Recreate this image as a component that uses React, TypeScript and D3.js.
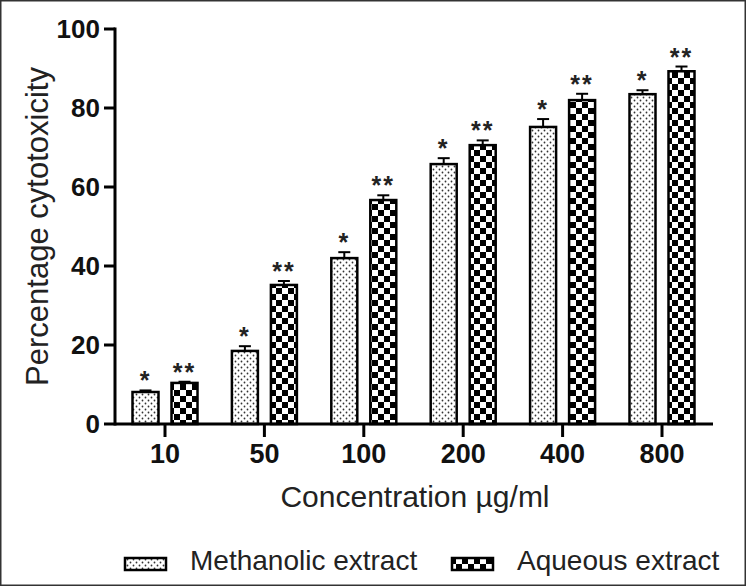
import React from "react";
import * as d3 from "d3";

const concentrations = ["10", "50", "100", "200", "400", "800"];
const methanolic = [8.1, 18.5, 42, 65.8, 75.2, 83.5];
const methanolicErr = [0.4, 1.2, 1.5, 1.5, 2, 1];
const aqueous = [10.4, 35.2, 56.7, 70.6, 82, 89.3];
const aqueousErr = [0.3, 1, 1.2, 1.2, 1.6, 1.2];
const yTicks = [0, 20, 40, 60, 80, 100];
const seriesNames = ["Methanolic extract", "Aqueous extract"];
const marks = ["*", "**"];

const W = 746;
const H = 586;
const margin = { left: 115, top: 29, right: 33, bottom: 162 };
const font = "'Liberation Sans', Arial, sans-serif";

export default function App() {
  const x = d3.scalePoint().domain(concentrations).range([165, 662]);
  const y = d3.scaleLinear().domain([0, 100]).range([H - margin.bottom, margin.top]);
  const barW = 26;
  const offsets = [-32.5, 6.5];
  const series = [
    { vals: methanolic, errs: methanolicErr, fill: "url(#dots)" },
    { vals: aqueous, errs: aqueousErr, fill: "url(#checks)" },
  ];
  const y0 = y(0);

  return (
    <svg
      width={W}
      height={H}
      style={{ position: "absolute", left: 0, top: 0, background: "#fff" }}
      fontFamily={font}
    >
      <defs>
        <pattern id="dots" width="6" height="6" patternUnits="userSpaceOnUse">
          <rect width="6" height="6" fill="#fff" />
          <circle cx="1.5" cy="1.5" r="0.9" fill="#333" />
          <circle cx="4.5" cy="4.5" r="0.9" fill="#333" />
        </pattern>
        <pattern id="checks" width="12" height="12" patternUnits="userSpaceOnUse">
          <rect width="12" height="12" fill="#fff" />
          <rect width="6" height="6" fill="#000" />
          <rect x="6" y="6" width="6" height="6" fill="#000" />
        </pattern>
      </defs>
      <rect x={0.75} y={0.75} width={W - 1.5} height={H - 1.5} fill="none" stroke="#333" strokeWidth={1.5} />

      {/* bars */}
      {concentrations.map((c, i) => (
        <g key={c}>
          {series.map((s, k) => {
            const bx = (x(c) as number) + offsets[k];
            const top = y(s.vals[i]);
            const eTop = y(s.vals[i] + s.errs[i]);
            const cx = bx + barW / 2;
            return (
              <g key={k}>
                <rect
                  x={bx}
                  y={top}
                  width={barW}
                  height={y0 - top}
                  fill={s.fill}
                  stroke="#000"
                  strokeWidth={2.5}
                />
                <line x1={cx} x2={cx} y1={top} y2={eTop} stroke="#000" strokeWidth={2} />
                <line x1={cx - 6} x2={cx + 6} y1={eTop} y2={eTop} stroke="#000" strokeWidth={2} />
                <text
                  x={cx}
                  y={eTop - 1}
                  textAnchor="middle"
                  fontSize={25}
                  fontWeight="bold"
                  fill="#222"
                  letterSpacing={2}
                >
                  {marks[k]}
                </text>
              </g>
            );
          })}
        </g>
      ))}

      {/* y axis */}
      <line x1={margin.left} x2={margin.left} y1={y(100) - 1.5} y2={y0 + 1.5} stroke="#000" strokeWidth={3} />
      {yTicks.map((t) => (
        <g key={t}>
          <line x1={margin.left - 11} x2={margin.left} y1={y(t)} y2={y(t)} stroke="#000" strokeWidth={3} />
          <text
            x={margin.left - 15}
            y={y(t)}
            dy="0.36em"
            textAnchor="end"
            fontSize={26}
            fontWeight="bold"
            fill="#111"
          >
            {t}
          </text>
        </g>
      ))}

      {/* x axis */}
      <line x1={margin.left} x2={W - margin.right} y1={y0} y2={y0} stroke="#000" strokeWidth={3} />
      {concentrations.map((c) => (
        <g key={c}>
          <line x1={x(c)} x2={x(c)} y1={y0} y2={y0 + 13} stroke="#000" strokeWidth={3} />
          <text x={x(c)} y={y0 + 39} textAnchor="middle" fontSize={27} fontWeight="bold" fill="#111">
            {c}
          </text>
        </g>
      ))}

      <text
        transform={`translate(48,${(y(100) + y0) / 2}) rotate(-90)`}
        textAnchor="middle"
        fontSize={31}
        fill="#222"
      >
        Percentage cytotoxicity
      </text>
      <text x={415} y={507} textAnchor="middle" fontSize={30} fill="#222">
        Concentration µg/ml
      </text>

      {/* legend */}
      {seriesNames.map((n, k) => {
        const lx = [125, 452][k];
        return (
          <g key={n}>
            <rect x={lx} y={558} width={41} height={12} fill={series[k].fill} stroke="#000" strokeWidth={2.5} />
            <text x={lx + 65} y={570} fontSize={28} fill="#222">
              {n}
            </text>
          </g>
        );
      })}
    </svg>
  );
}
